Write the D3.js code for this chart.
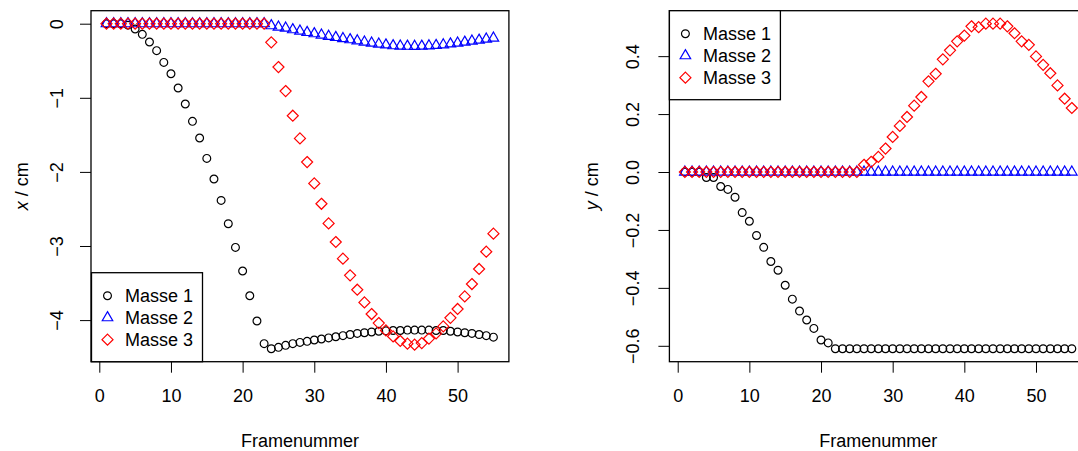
<!DOCTYPE html>
<html>
<head>
<meta charset="utf-8">
<script src="https://cdn.jsdelivr.net/npm/d3@7"></script>
<style>
  body { margin: 0; background: #fff; }
  svg { display: block; font-family: "Liberation Sans", Arial, sans-serif; }
</style>
</head>
<body>
<svg id="chart" width="1078" height="451"></svg>
<script>
// Frame numbers
const frames = [1, 2, 3, 4, 5, 6, 7, 8, 9, 10, 11, 12, 13, 14, 15, 16, 17, 18, 19, 20,
  21, 22, 23, 24, 25, 26, 27, 28, 29, 30, 31, 32, 33, 34, 35, 36, 37, 38, 39, 40,
  41, 42, 43, 44, 45, 46, 47, 48, 49, 50, 51, 52, 53, 54, 55];

// x position (cm) per mass
const masse1X = [0, 0, 0, -0.02, -0.072, -0.144, -0.247, -0.364, -0.522, -0.675,
  -0.868, -1.084, -1.318, -1.543, -1.818, -2.096, -2.385, -2.699, -3.019, -3.337,
  -3.671, -4.012, -4.318, -4.386, -4.368, -4.341, -4.318, -4.301, -4.287, -4.269,
  -4.255, -4.24, -4.225, -4.21, -4.195, -4.18, -4.17, -4.16, -4.15, -4.145,
  -4.14, -4.14, -4.135, -4.135, -4.135, -4.135, -4.14, -4.14, -4.15, -4.16,
  -4.17, -4.18, -4.195, -4.21, -4.23];
const masse2X = [0, 0, 0, 0, 0, 0, 0, 0, 0, 0, 0, 0, 0, 0, 0, 0, 0, 0, 0, 0, 0, 0, 0,
  -0.027, -0.046, -0.059, -0.081, -0.1, -0.118, -0.135, -0.153, -0.171, -0.186,
  -0.201, -0.216, -0.231, -0.247, -0.262, -0.274, -0.286, -0.297, -0.301, -0.304,
  -0.306, -0.303, -0.299, -0.293, -0.284, -0.273, -0.262, -0.249, -0.235, -0.222,
  -0.208, -0.194];
const masse3X = [0, 0, 0, 0, 0, 0, 0, 0, 0, 0, 0, 0, 0, 0, 0, 0, 0, 0, 0, 0, 0, 0, 0,
  -0.252, -0.585, -0.909, -1.242, -1.548, -1.867, -2.155, -2.43, -2.695, -2.946,
  -3.171, -3.396, -3.59, -3.761, -3.918, -4.04, -4.139, -4.22, -4.282, -4.318,
  -4.332, -4.31, -4.25, -4.18, -4.085, -3.97, -3.85, -3.68, -3.513, -3.31,
  -3.077, -2.834];

// y position (cm) per mass
const masse1Y = [0, 0, 0, -0.019, -0.019, -0.05, -0.06, -0.087, -0.14, -0.17,
  -0.219, -0.26, -0.309, -0.339, -0.391, -0.439, -0.48, -0.511, -0.54, -0.58,
  -0.59, -0.61, -0.61, -0.61, -0.61, -0.61, -0.61, -0.61, -0.61, -0.61,
  -0.61, -0.61, -0.61, -0.61, -0.61, -0.61, -0.61, -0.61, -0.61, -0.61,
  -0.61, -0.61, -0.61, -0.61, -0.61, -0.61, -0.61, -0.61, -0.61, -0.61,
  -0.61, -0.61, -0.61, -0.61, -0.61];
const masse2Y = [0, 0, 0, 0, 0, 0, 0, 0, 0, 0, 0, 0, 0, 0, 0, 0, 0, 0, 0, 0,
  0, 0, 0, 0, 0, 0, 0, 0, 0, 0, 0, 0, 0, 0, 0, 0, 0, 0, 0, 0,
  0, 0, 0, 0, 0, 0, 0, 0, 0, 0, 0, 0, 0, 0, 0];
const masse3Y = [0, 0, 0, 0, 0, 0, 0, 0, 0, 0, 0, 0, 0, 0, 0, 0, 0, 0, 0, 0, 0, 0, 0, 0, 0,
  0.025, 0.035, 0.052, 0.081, 0.121, 0.159, 0.19, 0.229, 0.259, 0.313,
  0.339, 0.389, 0.42, 0.451, 0.471, 0.503, 0.5, 0.512, 0.512, 0.512,
  0.503, 0.479, 0.451, 0.439, 0.399, 0.37, 0.341, 0.299, 0.253, 0.221];

const xTicks = [0, 10, 20, 30, 40, 50];
const yTicksX = [0, -1, -2, -3, -4];
const yTicksY = [-0.6, -0.4, -0.2, 0, 0.2, 0.4];
const legendLabels = ["Masse 1", "Masse 2", "Masse 3"];
const xLabel = "Framenummer";

const colors = ["#000000", "#0000ff", "#ff0000"];
const fontSize = 18;
const R = 3.9;

const svg = d3.select("#chart");

// R-like plot symbols: pch 1 (circle), 2 (triangle), 5 (diamond)
function symbolPath(kind) {
  if (kind === 0) {
    return `M${R},0A${R},${R},0,1,1,${-R},0A${R},${R},0,1,1,${R},0Z`;
  }
  if (kind === 1) {
    const r = 1.555 * R, xc = 1.347 * R, yc = 0.778 * R;
    return `M0,${-r}L${xc},${yc}L${-xc},${yc}Z`;
  }
  const d = Math.SQRT2 * R;
  return `M0,${-d}L${d},0L0,${d}L${-d},0Z`;
}

function drawPanel(cfg) {
  const g = svg.append("g");
  const top = 10.7, bottom = 361.7;

  const x = d3.scaleLinear().domain([-1.16, 57.16]).range([cfg.left, cfg.left + 417.9]);
  const all = cfg.series.flat();
  const [mn, mx] = d3.extent(all);
  const pad = (mx - mn) * 0.04;
  const y = d3.scaleLinear().domain([mn - pad, mx + pad]).range([bottom, top]);

  // points
  cfg.series.forEach((vals, k) => {
    g.append("g")
      .selectAll("path")
      .data(vals)
      .join("path")
      .attr("d", symbolPath(k))
      .attr("transform", (d, i) => `translate(${x(frames[i])},${y(d)})`)
      .attr("fill", "none")
      .attr("stroke", colors[k])
      .attr("stroke-width", 1.2);
  });

  // box
  g.append("rect")
    .attr("x", x.range()[0]).attr("y", top)
    .attr("width", x.range()[1] - x.range()[0]).attr("height", bottom - top)
    .attr("fill", "none").attr("stroke", "#000").attr("stroke-width", 1.3);

  // x axis
  const xAxis = g.append("g")
    .attr("transform", `translate(0,${bottom})`)
    .call(d3.axisBottom(x).tickValues(xTicks).tickSize(11).tickPadding(16.8).tickFormat(d3.format("d")));
  xAxis.select(".domain").remove();
  xAxis.selectAll("text").style("font-size", fontSize + "px").attr("fill", "#000");
  xAxis.selectAll("line").attr("stroke", "#000");

  // y axis with rotated labels
  const yAxis = g.append("g")
    .attr("transform", `translate(${cfg.left},0)`)
    .call(d3.axisLeft(y).tickValues(cfg.yTicks).tickSize(11).tickFormat(d3.format(cfg.yFmt)));
  yAxis.select(".domain").remove();
  yAxis.selectAll("line").attr("stroke", "#000");
  yAxis.selectAll("text")
    .attr("x", null).attr("dy", null)
    .attr("text-anchor", "middle")
    .attr("transform", `translate(${-cfg.tickLabOff},0) rotate(-90)`)
    .attr("fill", "#000")
    .style("font-size", fontSize + "px");

  // x label
  g.append("text")
    .attr("x", (x.range()[0] + x.range()[1]) / 2)
    .attr("y", 446.7)
    .attr("text-anchor", "middle")
    .style("font-size", fontSize + "px")
    .text(xLabel);

  // y label
  const yl = g.append("text")
    .attr("transform", `translate(${cfg.yLabX},${(top + bottom) / 2}) rotate(-90)`)
    .attr("text-anchor", "middle")
    .style("font-size", fontSize + "px");
  yl.append("tspan").style("font-style", "italic").text(cfg.yVar);
  yl.append("tspan").text(" / cm");

  // legend
  const lg = g.append("g").attr("transform", `translate(${cfg.legend[0]},${cfg.legend[1]})`);
  lg.append("rect")
    .attr("width", 111).attr("height", 89)
    .attr("fill", "#fff").attr("stroke", "#000").attr("stroke-width", 1.3);
  legendLabels.forEach((lab, k) => {
    const ry = 23 + k * 22;
    lg.append("path")
      .attr("d", symbolPath(k))
      .attr("transform", `translate(16,${ry})`)
      .attr("fill", "none").attr("stroke", colors[k]).attr("stroke-width", 1.2);
    lg.append("text")
      .attr("x", 33.5).attr("y", ry).attr("dy", "0.36em")
      .style("font-size", fontSize + "px")
      .text(lab);
  });
}

drawPanel({
  left: 91, series: [masse1X, masse2X, masse3X], yTicks: yTicksX, yFmt: "d",
  tickLabOff: 27.7, yLabX: 28.3, yVar: "x", legend: [91.5, 272.7]
});
drawPanel({
  left: 669.4, series: [masse1Y, masse2Y, masse3Y], yTicks: yTicksY, yFmt: ".1f",
  tickLabOff: 30, yLabX: 598, yVar: "y", legend: [669.4, 10.7]
});
</script>
</body>
</html>
